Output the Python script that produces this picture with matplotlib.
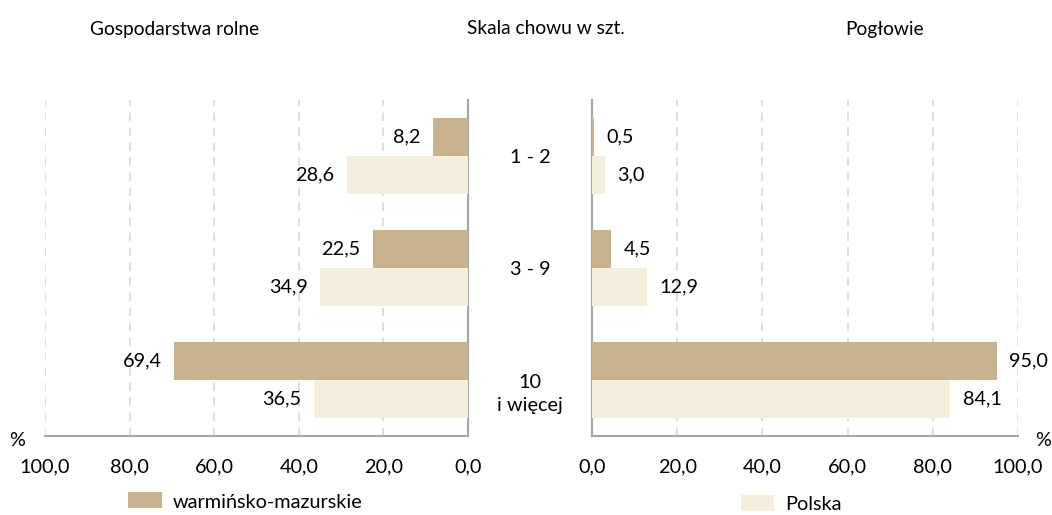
import matplotlib
matplotlib.use("Agg")
import matplotlib.pyplot as plt
from matplotlib.patches import Rectangle
from matplotlib.transforms import blended_transform_factory

plt.rcParams['font.family'] = ['Lato', 'DejaVu Sans']

categories = ["1 - 2", "3 - 9", "10\ni więcej"]
series_names = ["warmińsko-mazurskie", "Polska"]
farms_wm = [8.2, 22.5, 69.4]
farms_pl = [28.6, 34.9, 36.5]
stock_wm = [0.5, 4.5, 95.0]
stock_pl = [3.0, 12.9, 84.1]
ticks = [0, 20, 40, 60, 80, 100]
tick_labels = ["0,0", "20,0", "40,0", "60,0", "80,0", "100,0"]

C_WM = "#C9B38E"
C_PL = "#F4EEDC"
AX_C = "#A6A6A6"
GRID_C = "#D9D9D9"
FS = 14.3

W, H = 1052, 515
fig = plt.figure(figsize=(W / 100, H / 100), dpi=100)

def fx(px):
    return px / W

def fy(py):
    return 1 - py / H

top, bottom = 100, 436
axL = fig.add_axes([fx(45), fy(bottom), fx(468 - 45), (bottom - top) / H])
axR = fig.add_axes([fx(592), fy(bottom), fx(1018 - 592), (bottom - top) / H])

bh = 0.34
ys = list(range(len(categories)))

def fmt(v):
    return f"{v:.1f}".replace(".", ",")

for ax, wm, pl, side in [(axL, farms_wm, farms_pl, "L"), (axR, stock_wm, stock_pl, "R")]:
    y1 = [y - bh / 2 for y in ys]
    y2 = [y + bh / 2 for y in ys]
    ax.barh(y1, wm, height=bh, color=C_WM, zorder=3)
    ax.barh(y2, pl, height=bh, color=C_PL, zorder=3)
    ax.set_ylim(2.5, -0.5)
    ax.set_yticks([])
    ax.set_xticks(ticks)
    ax.set_xticklabels(tick_labels, fontsize=FS)
    ax.tick_params(axis='x', length=0, pad=16)
    ax.grid(axis='x', color=GRID_C, linestyle=(0, (5, 4)), linewidth=1.2, zorder=0)
    for s in ax.spines.values():
        s.set_visible(False)
    ax.spines['bottom'].set_visible(True)
    ax.spines['bottom'].set_color(AX_C)
    ax.spines['bottom'].set_linewidth(1.5)
    if side == "L":
        ax.set_xlim(100, 0)
        ax.spines['right'].set_visible(True)
        ax.spines['right'].set_color(AX_C)
        ax.spines['right'].set_linewidth(1.5)
        off, ha = -9, 'right'
    else:
        ax.set_xlim(0, 100)
        ax.spines['left'].set_visible(True)
        ax.spines['left'].set_color(AX_C)
        ax.spines['left'].set_linewidth(1.5)
        off, ha = 9, 'left'
    for yy, v in zip(y1, wm):
        ax.annotate(fmt(v), (v, yy), xytext=(off, 0), textcoords='offset points',
                    ha=ha, va='center', fontsize=FS, color='#000000')
    for yy, v in zip(y2, pl):
        ax.annotate(fmt(v), (v, yy), xytext=(off, 0), textcoords='offset points',
                    ha=ha, va='center', fontsize=FS, color='#000000')

tr = blended_transform_factory(fig.transFigure, axL.transData)
for i, c in enumerate(categories):
    if "\n" in c:
        axL.annotate(c, (fx(530), i), xycoords=tr, xytext=(0, -10), textcoords='offset points',
                     ha='center', va='center', fontsize=FS, linespacing=1.45)
    else:
        axL.annotate(c, (fx(530), i), xycoords=tr, xytext=(0, -1), textcoords='offset points',
                     ha='center', va='center', fontsize=FS)

fig.text(fx(175), fy(30), "Gospodarstwa rolne", ha='center', va='center', fontsize=FS - 0.5)
fig.text(fx(546), fy(28), "Skala chowu w szt.", ha='center', va='center', fontsize=FS - 0.5)
fig.text(fx(885), fy(29), "Pogłowie", ha='center', va='center', fontsize=FS - 0.5)

fig.text(fx(17), fy(440), "%", ha='center', va='center', fontsize=FS)
fig.text(fx(1043), fy(440), "%", ha='center', va='center', fontsize=FS)

fig.add_artist(Rectangle((fx(128), fy(508)), fx(34), 16 / H, transform=fig.transFigure,
                         facecolor=C_WM, edgecolor='none'))
fig.text(fx(173), fy(502), series_names[0], ha='left', va='center', fontsize=FS)
fig.add_artist(Rectangle((fx(741), fy(511)), fx(33), 16 / H, transform=fig.transFigure,
                         facecolor=C_PL, edgecolor='none'))
fig.text(fx(785), fy(505), series_names[1], ha='left', va='center', fontsize=FS)

fig.savefig("out.png", dpi=100)
